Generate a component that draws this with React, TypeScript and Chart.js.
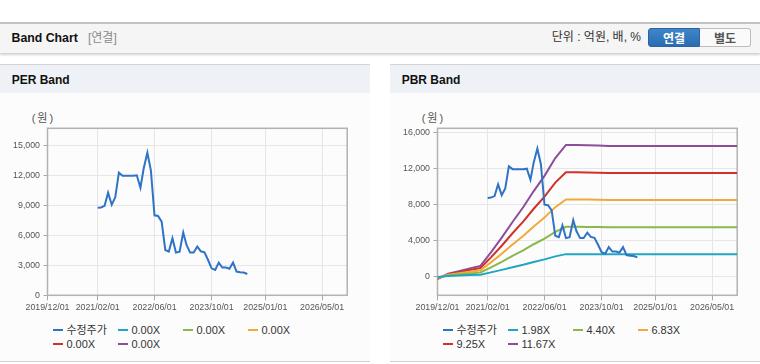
import React, { useEffect, useRef } from "react";
import { Chart, registerables } from "chart.js";

Chart.register(...registerables);

// ---------- data ----------
const priceLabel = "수정주가";
const priceDates = [
  "2021-02-01", "2021-03-01", "2021-04-01", "2021-05-01", "2021-06-01", "2021-07-01",
  "2021-08-01", "2021-09-01", "2021-10-01", "2021-11-01", "2021-12-01", "2022-01-01",
  "2022-02-01", "2022-03-01", "2022-04-01", "2022-05-01", "2022-06-01", "2022-07-01",
  "2022-08-01", "2022-09-01", "2022-10-01", "2022-11-01", "2022-12-01", "2023-01-01",
  "2023-02-01", "2023-03-01", "2023-04-01", "2023-05-01", "2023-06-01", "2023-07-01",
  "2023-08-01", "2023-09-01", "2023-10-01", "2023-11-01", "2023-12-01", "2024-01-01",
  "2024-02-01", "2024-03-01", "2024-04-01", "2024-05-01", "2024-06-01", "2024-07-01",
  "2024-08-01",
];
const priceValues = [
  8750, 8780, 8950, 10260, 9050, 9800,
  12260, 11950, 11950, 11950, 11950, 12000,
  10760, 12700, 14260, 12500, 8000, 7930,
  7360, 4530, 4370, 5700, 4270, 4370,
  6270, 5030, 4270, 4270, 4870, 4400,
  4300, 3530, 2700, 2530, 3270, 2770,
  2770, 2650, 3270, 2370, 2300, 2270,
  2130,
];

const bandDates = [
  "2019-12-01", "2020-03-01", "2020-06-01", "2020-09-01", "2020-12-01", "2021-03-01",
  "2021-06-01", "2021-09-01", "2021-12-01", "2022-03-01", "2022-06-01", "2022-09-01",
  "2022-12-01", "2023-03-01", "2023-06-01", "2023-09-01", "2023-12-01", "2026-12-01",
];
const perBandLabels = ["0.00X", "0.00X", "0.00X", "0.00X", "0.00X"];
const pbrBandLabels = ["1.98X", "4.40X", "6.83X", "9.25X", "11.67X"];
const pbrBand1 = [-51, 51, 101, 152, 200, 455, 733, 1030, 1307, 1614, 1901, 2237, 2485, 2485, 2481, 2475, 2465, 2465];
const pbrBand2 = [-114, 114, 224, 339, 444, 1012, 1628, 2288, 2904, 3586, 4224, 4972, 5522, 5522, 5513, 5500, 5478, 5478];
const pbrBand3 = [-178, 178, 348, 526, 690, 1571, 2527, 3552, 4508, 5566, 6557, 7718, 8572, 8572, 8558, 8538, 8503, 8503];
const pbrBand4 = [-241, 241, 472, 712, 934, 2128, 3423, 4810, 6105, 7539, 8880, 10453, 11609, 11609, 11590, 11563, 11516, 11516];
const pbrBand5 = [-303, 303, 595, 899, 1179, 2684, 4318, 6068, 7702, 9511, 11203, 13187, 14646, 14646, 14623, 14588, 14529, 14529];

const xTickDates = ["2019-12-01", "2021-02-01", "2022-06-01", "2023-10-01", "2025-01-01", "2026-05-01"];
const xMinDate = "2019-12-01";
const xMaxDate = "2026-12-01";
const perYTicks = [0, 3000, 6000, 9000, 12000, 15000];
const pbrYTicks = [0, 4000, 8000, 12000, 16000];
const perYRange = [0, 16700];
const pbrYRange = [-2100, 16500];

const priceColor = "#2f73c6";
const bandColors = ["#1ea7c2", "#8ab84a", "#f2a93b", "#d1312b", "#8d4c9c"];

// ---------- helpers ----------
const ts = (s: string) => Date.parse(s + "T00:00:00Z");
const fmtDate = (v: number) => {
  const d = new Date(v);
  const m = String(d.getUTCMonth() + 1).padStart(2, "0");
  const dd = String(d.getUTCDate()).padStart(2, "0");
  return `${d.getUTCFullYear()}/${m}/${dd}`;
};
const FONT = "'Liberation Sans', Arial, 'Noto Sans CJK KR', sans-serif";

const framePlugin = {
  id: "frame",
  beforeDatasetsDraw(chart: any) {
    const { ctx, chartArea } = chart;
    const { left, top, right, bottom } = chartArea;
    ctx.save();
    ctx.strokeStyle = "#b2b2b2";
    ctx.lineWidth = 1.5;
    ctx.strokeRect(left, top, right - left, bottom - top);
    ctx.restore();
  },
};

type Band = { label: string; color: string; values: number[] | null };

const CW = 370;
const CH = 226;

function BandChart({ bands, yRange, yTicks }: { bands: Band[]; yRange: number[]; yTicks: number[] }) {
  const ref = useRef<HTMLCanvasElement>(null);
  useEffect(() => {
    const datasets: any[] = [
      {
        label: priceLabel,
        data: priceDates.map((d, i) => ({ x: ts(d), y: priceValues[i] })),
        borderColor: priceColor,
        backgroundColor: priceColor,
        borderWidth: 2,
        pointRadius: 0,
        tension: 0,
      },
      ...bands.map((b) => ({
        label: b.label,
        data: b.values ? bandDates.map((d, i) => ({ x: ts(d), y: b.values![i] })) : [],
        borderColor: b.color,
        backgroundColor: b.color,
        borderWidth: 2,
        pointRadius: 0,
        tension: 0,
      })),
    ];
    const chart = new Chart(ref.current!, {
      type: "line",
      data: { datasets },
      options: {
        responsive: false,
        animation: false,
        devicePixelRatio: 1,
        layout: { padding: { top: 36.3, right: CW - 347.2, left: 0, bottom: 0 } },
        plugins: { legend: { display: false }, tooltip: { enabled: false } },
        scales: {
          x: {
            type: "linear",
            min: ts(xMinDate),
            max: ts(xMaxDate),
            afterBuildTicks: (s: any) => {
              s.ticks = xTickDates.map((d) => ({ value: ts(d) }));
            },
            afterFit: (s: any) => {
              s.height = CH - 203.3;
            },
            grid: { color: "#e6e6e6", tickColor: "#a8a8a8", tickLength: 5, lineWidth: 1 },
            border: { display: false },
            ticks: {
              autoSkip: false,
              maxRotation: 0,
              padding: 2,
              color: "#555",
              font: { family: FONT, size: 8.8 },
              callback: (v: any) => fmtDate(Number(v)),
            },
          },
          y: {
            type: "linear",
            min: yRange[0],
            max: yRange[1],
            afterBuildTicks: (s: any) => {
              s.ticks = yTicks.map((v) => ({ value: v }));
            },
            afterFit: (s: any) => {
              s.width = 47.5;
            },
            grid: { color: "#e6e6e6", tickColor: "#a8a8a8", tickLength: 4, lineWidth: 1 },
            border: { display: false },
            ticks: {
              padding: 3.5,
              color: "#555",
              font: { family: FONT, size: 8.8 },
              callback: (v: any) => Number(v).toLocaleString("en-US"),
            },
          },
        },
      } as any,
      plugins: [framePlugin],
    });
    return () => chart.destroy();
  }, []);
  return <canvas ref={ref} width={CW} height={CH} style={{ position: "absolute", left: 0, top: 92, width: CW, height: CH }} />;
}

function Legend({ bands }: { bands: Band[] }) {
  const items = [{ label: priceLabel, color: priceColor }, ...bands];
  return (
    <div style={{ position: "absolute", left: 52.7, top: 323, width: 270, display: "flex", flexWrap: "wrap" }}>
      {items.map((it, i) => (
        <div key={i} style={{ width: 65, height: 14, display: "flex", alignItems: "center" }}>
          <span style={{ display: "inline-block", width: 10.7, height: 2.5, background: it.color, marginRight: 3 }} />
          <span style={{ fontSize: 11, color: "#333", lineHeight: "14px", whiteSpace: "nowrap" }}>{it.label}</span>
        </div>
      ))}
    </div>
  );
}

function Panel({ left, title, bands, yRange, yTicks }: any) {
  return (
    <div style={{ position: "absolute", left, top: 0, width: CW, height: 364 }}>
      <div
        style={{
          position: "absolute", left: 0, top: 64, width: CW, height: 29, boxSizing: "border-box",
          borderTop: "1px solid #d4d4d4", background: "#eef2f7",
        }}
      >
        <span style={{ position: "absolute", left: 11.7, top: 7.5, fontSize: 12, fontWeight: "bold", color: "#111", lineHeight: "14px" }}>
          {title}
        </span>
      </div>
      <div
        style={{
          position: "absolute", left: 0, top: 93, width: CW, height: 269, boxSizing: "border-box",
          background: "#fcfcfc", borderBottom: "1px solid #cfcfcf",
        }}
      />
      <span style={{ position: "absolute", left: 31.7, top: 111, fontSize: 11, color: "#555", lineHeight: "14px", letterSpacing: 2 }}>(원)</span>
      <BandChart bands={bands} yRange={yRange} yTicks={yTicks} />
      <Legend bands={bands} />
    </div>
  );
}

export default function App() {
  useEffect(() => {
    document.body.style.margin = "0";
  }, []);
  const perBands: Band[] = perBandLabels.map((l, i) => ({ label: l, color: bandColors[i], values: null }));
  const pbrValues = [pbrBand1, pbrBand2, pbrBand3, pbrBand4, pbrBand5];
  const pbrBands: Band[] = pbrBandLabels.map((l, i) => ({ label: l, color: bandColors[i], values: pbrValues[i] }));
  return (
    <div style={{ position: "relative", width: 760, height: 364, background: "#fff", fontFamily: FONT, overflow: "hidden" }}>
      <div style={{ position: "absolute", left: 0, top: 22, width: 760, height: 2, background: "#c2c2c2" }} />
      <div
        style={{
          position: "absolute", left: 0, top: 24, width: 760, height: 29, background: "#f5f5f5",
          boxShadow: "0 2px 2px rgba(0,0,0,0.18)",
        }}
      >
        <span style={{ position: "absolute", left: 11.5, top: 7, fontSize: 12.3, fontWeight: "bold", color: "#111", lineHeight: "14px" }}>
          Band Chart
        </span>
        <span style={{ position: "absolute", left: 88, top: 7, fontSize: 12, color: "#8a8a8a", lineHeight: "14px" }}>[연결]</span>
        <span style={{ position: "absolute", right: 760 - 641, top: 6, fontSize: 12, color: "#333", lineHeight: "14px", whiteSpace: "nowrap" }}>
          단위 : 억원, 배, %
        </span>
        <div
          style={{
            position: "absolute", left: 648, top: 4, width: 52, height: 19, boxSizing: "border-box",
            background: "linear-gradient(#3f86c9, #2b6cb0)", border: "1px solid #2a64a3",
            borderRadius: "3px 0 0 3px", color: "#fff", fontSize: 12, fontWeight: "bold",
            display: "flex", alignItems: "center", justifyContent: "center",
          }}
        >
          연결
        </div>
        <div
          style={{
            position: "absolute", left: 700, top: 4, width: 51, height: 19, boxSizing: "border-box",
            background: "#fafafa", border: "1px solid #bdbdbd", borderLeft: "none",
            borderRadius: "0 3px 3px 0", color: "#555", fontSize: 12, fontWeight: "bold",
            display: "flex", alignItems: "center", justifyContent: "center",
          }}
        >
          별도
        </div>
      </div>
      <Panel left={0} title="PER Band" bands={perBands} yRange={perYRange} yTicks={perYTicks} />
      <Panel left={390} title="PBR Band" bands={pbrBands} yRange={pbrYRange} yTicks={pbrYTicks} />
    </div>
  );
}
